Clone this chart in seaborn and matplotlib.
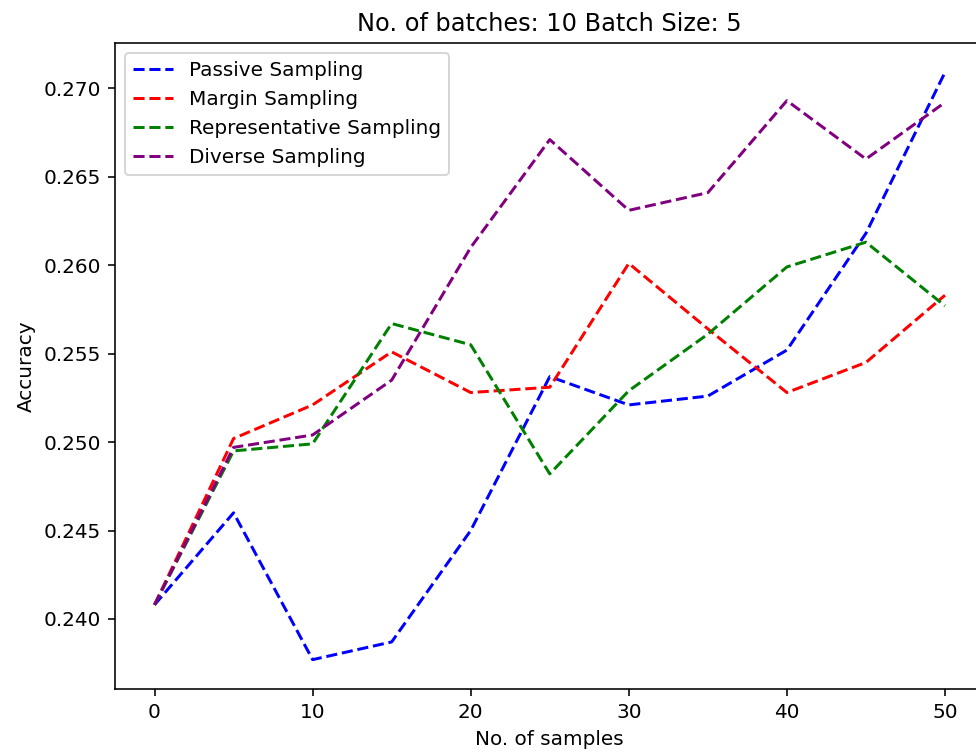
import matplotlib
matplotlib.use("Agg")
import matplotlib.pyplot as plt
import seaborn as sns
import pandas as pd

samples = [0, 5, 10, 15, 20, 25, 30, 35, 40, 45, 50]
passive = [0.2408, 0.2460, 0.2377, 0.2387, 0.2450, 0.2537, 0.2521, 0.2526, 0.2552, 0.2618, 0.2709]
margin = [0.2408, 0.2502, 0.2521, 0.2551, 0.2528, 0.2531, 0.2601, 0.2564, 0.2528, 0.2545, 0.2583]
representative = [0.2408, 0.2495, 0.2499, 0.2567, 0.2555, 0.2482, 0.2529, 0.2561, 0.2599, 0.2613, 0.2577]
diverse = [0.2408, 0.2497, 0.2504, 0.2535, 0.2610, 0.2671, 0.2631, 0.2641, 0.2693, 0.2660, 0.2692]

series_names = ["Passive Sampling", "Margin Sampling", "Representative Sampling", "Diverse Sampling"]
series_values = [passive, margin, representative, diverse]
series_colors = ["blue", "red", "green", "purple"]
yticks = [0.240, 0.245, 0.250, 0.255, 0.260, 0.265, 0.270]
xticks = [0, 10, 20, 30, 40, 50]

dpi = 144
fig = plt.figure(figsize=(976 / dpi, 752 / dpi), dpi=dpi)
ax = fig.add_axes([115 / 976, 1 - 689 / 752, (984.5 - 115) / 976, (689 - 43) / 752])

for name, vals, col in zip(series_names, series_values, series_colors):
    df = pd.DataFrame({"samples": samples, "acc": vals})
    sns.lineplot(data=df, x="samples", y="acc", color=col, linestyle="--", label=name, ax=ax)

ax.set_xticks(xticks)
ax.set_yticks(yticks)
ax.set_xlabel("No. of samples")
ax.set_ylabel("Accuracy")
ax.set_title("No. of batches: 10 Batch Size: 5")
ax.spines["right"].set_visible(False)
ax.legend(loc="upper left")

fig.savefig("out.png", dpi=dpi)
